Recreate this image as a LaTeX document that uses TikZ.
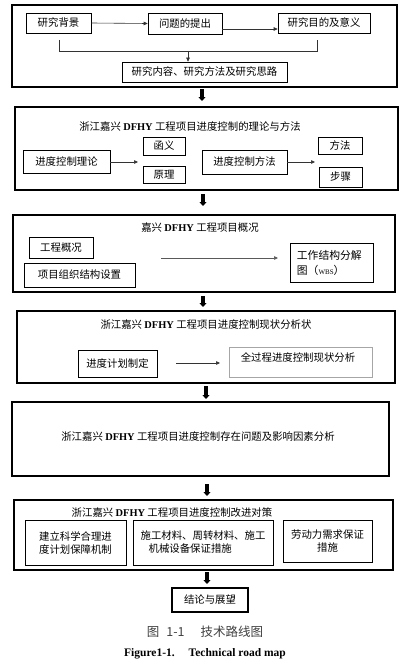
\documentclass[tikz,border=0pt]{standalone}
\usepackage{fontspec}
\setmainfont{Liberation Serif}
\newfontfamily\cjk{Noto Sans CJK SC}
\usetikzlibrary{arrows.meta}
\newcommand\dfhy{{\rmfamily\bfseries DFHY}}
\begin{document}
\begin{tikzpicture}[x=1pt,y=-1pt,
  every node/.style={font=\cjk\fontsize{10.4}{13}\selectfont, inner sep=0pt},
  obox/.style={draw, line width=1.6pt, minimum width=#1},
  ibox/.style={draw, line width=0.6pt},
  gbox/.style={draw=gray!70, line width=0.6pt},
  arr/.style={-{Triangle[length=4pt,width=3.5pt]}, line width=0.6pt, draw=black!80},
  big/.style={-{Triangle[length=4pt,width=7pt]}, line width=3.6pt}
]
\useasboundingbox[fill=white] (0,0) rectangle (409,669);

% ---------- block 1
\node[obox=385pt, minimum height=82pt] (o1) at (204.5,46) {};
\node[ibox, minimum width=65pt, minimum height=20pt] (bg) at (58.5,23) {研究背景};
\node[ibox, minimum width=74pt, minimum height=21pt] (wt) at (185,23.5) {问题的提出};
\node[ibox, minimum width=92pt, minimum height=20pt] (md) at (324,23) {研究目的及意义};
\node[ibox, minimum width=165pt, minimum height=20pt] (nr) at (204.5,72) {研究内容、研究方法及研究思路};
\draw[arr] (bg.east) -- (wt.west);
\draw[arr] ([yshift=-5.5pt]wt.east) -- ([yshift=-5.5pt]wt.east -| md.west);
\coordinate (jl) at (59,40);
\coordinate (jr) at (317,40);
\coordinate (jm) at (188,51);
\draw[line width=0.6pt, draw=black!80] (jl) -- (jl |- jm) -- (jr |- jm) -- (jr);
\draw[arr] (jm) -- (jm |- nr.north);

\coordinate (a1s) at (202,89);
\coordinate (a1e) at (202,101);
\draw[big] (a1s) -- (a1e);

% ---------- block 2
\node[obox=383pt, minimum height=83pt] (o2) at (206.5,148.5) {};
\node (t2) at (190,127) {浙江嘉兴 \dfhy{} 工程项目进度控制的理论与方法};
\node[ibox, minimum width=87pt, minimum height=23pt] (jlt) at (66.5,161.5) {进度控制理论};
\node[ibox, minimum width=42pt, minimum height=18pt] (hy) at (164,146) {函义};
\node[ibox, minimum width=42pt, minimum height=17pt] (yl) at (164,174.5) {原理};
\coordinate (p1) at (138,162);
\draw[arr] (jlt.east |- p1) -- (p1);
\node[ibox, minimum width=85pt, minimum height=24pt] (ff) at (244.5,162) {进度控制方法};
\coordinate (p2) at (315,162);
\draw[arr] (ff.east |- p2) -- (p2);
\node[ibox, minimum width=44pt, minimum height=17pt] (fa) at (340,145.5) {方法};
\node[ibox, minimum width=43pt, minimum height=20pt] (bz) at (340.5,177) {步骤};

\coordinate (a2s) at (203,194);
\coordinate (a2e) at (203,206);
\draw[big] (a2s) -- (a2e);

% ---------- block 3
\node[obox=382pt, minimum height=77pt] (o3) at (204,253.5) {};
\node (t3) at (200,228) {嘉兴 \dfhy{} 工程项目概况};
\node[ibox, minimum width=64pt, minimum height=21pt] (gk) at (61,247.5) {工程概况};
\node[ibox, minimum width=111pt, minimum height=24pt] (zz) at (79.5,275) {项目组织结构设置};
\node[ibox, minimum width=83pt, minimum height=39pt] (wbs) at (331.5,262.5) {};
\node[anchor=west, align=left, font=\cjk\fontsize{10.8}{15}\selectfont] (wbst) at ([xshift=7pt]wbs.west) {工作结构分解\\图（{\rmfamily\fontsize{7}{8}\selectfont WBS}）};
\coordinate (p3a) at (161,258);
\coordinate (p3b) at (278,258);
\draw[arr, draw=black!65] (p3a) -- (p3b);

\coordinate (a3s) at (203,296);
\coordinate (a3e) at (203,307);
\draw[big] (a3s) -- (a3e);

% ---------- block 4
\node[obox=378pt, minimum height=72pt] (o4) at (206,347) {};
\node (t4) at (206,325) {浙江嘉兴 \dfhy{} 工程项目进度控制现状分析状};
\node[ibox, minimum width=79pt, minimum height=27pt] (jh) at (117.5,363.5) {进度计划制定};
\node[gbox, minimum width=143pt, minimum height=30pt] (qgc) at (300.5,362) {};
\node (qgct) at (298,358) {全过程进度控制现状分析};
\coordinate (p4a) at (176,363);
\coordinate (p4b) at (220,363);
\draw[arr] (p4a) -- (p4b);

\coordinate (a4s) at (206,386);
\coordinate (a4e) at (206,399);
\draw[big] (a4s) -- (a4e);

% ---------- block 5
\node[obox=377pt, minimum height=74pt] (o5) at (200.5,439) {};
\node (t5) at (198,437) {浙江嘉兴 \dfhy{} 工程项目进度控制存在问题及影响因素分析};

\coordinate (a5s) at (207,484);
\coordinate (a5e) at (207,496);
\draw[big] (a5s) -- (a5e);

% ---------- block 6
\node[obox=379pt, minimum height=70pt] (o6) at (203.5,535) {};
\node (t6) at (172,513) {浙江嘉兴 \dfhy{} 工程项目进度控制改进对策};
\node[ibox, minimum width=101pt, minimum height=45pt, align=center] (k1) at (75.5,542.5) {建立科学合理进\\度计划保障机制};
\node[ibox, minimum width=140pt, minimum height=45pt, align=left] (k2) at (203,542.5) {施工材料、周转材料、施工\\\hspace{8pt}机械设备保证措施};
\node[ibox, minimum width=89pt, minimum height=42pt, align=center] (k3) at (327.5,541) {劳动力需求保证\\措施};

\coordinate (a6s) at (207,572);
\coordinate (a6e) at (207,584);
\draw[big] (a6s) -- (a6e);

% ---------- conclusion
\node[draw, line width=1.4pt, minimum width=76pt, minimum height=24pt] (jl7) at (210,600) {结论与展望};

% ---------- captions
\node[font=\cjk\fontsize{12.5}{14}\selectfont, text=black!75] (cap1) at (205,632) {图\hspace{7pt}1-1\hspace{16pt}技术路线图};
\node[font=\rmfamily\bfseries\fontsize{11.5}{13}\selectfont] (cap2) at (205,654) {Figure1-1.\hspace{14pt}Technical road map};
\end{tikzpicture}
\end{document}
